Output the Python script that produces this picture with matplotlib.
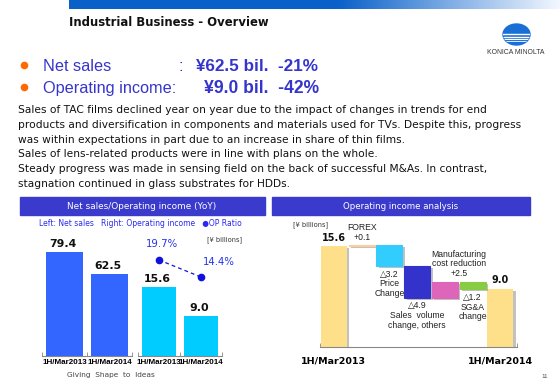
import matplotlib
matplotlib.use("Agg")
import matplotlib.pyplot as plt
import matplotlib.patheffects as pe
import numpy as np
from matplotlib.patches import Ellipse, Rectangle

# ── data ──
periods = ["1H/Mar2013", "1H/Mar2014"]
net_sales = [79.4, 62.5]
op_income = [15.6, 9.0]
op_ratio = [19.7, 14.4]

step_delta = [0.1, -3.2, -4.9, 2.5, -1.2]
step_labels = ["FOREX\n+0.1", "△3.2\nPrice\nChange", "△4.9\nSales  volume\nchange, others",
               "Manufacturing\ncost reduction\n+2.5", "△1.2\nSG&A\nchange"]
step_colors = ["#ffcc99", "#33ccff", "#3333cc", "#dd66bb", "#88cc44"]

paragraph = [
    "Sales of TAC films declined year on year due to the impact of changes in trends for end",
    "products and diversification in components and materials used for TVs. Despite this, progress",
    "was within expectations in part due to an increase in share of thin films.",
    "Sales of lens-related products were in line with plans on the whole.",
    "Steady progress was made in sensing field on the back of successful M&As. In contrast,",
    "stagnation continued in glass substrates for HDDs.",
]

W, H = 560, 388
fig = plt.figure(figsize=(W / 100, H / 100), dpi=100)
BLUE_TXT = "#3535cc"
SANS = ["Liberation Sans", "DejaVu Sans"]


def fx(x):
    return x / W


def fy(y):
    return 1 - y / H


def fit(t, width):
    r = fig.canvas.get_renderer()
    w = t.get_window_extent(r).width
    t.set_fontsize(t.get_fontsize() * width / w)
    return t


# page layer in pixel coordinates
page = fig.add_axes([0, 0, 1, 1])
page.set_axis_off()

# top gradient band
xs = np.linspace(0, 1, 400)
fade = np.clip((xs - 0.55) / 0.45, 0, 1)[None, :, None]
c0 = np.array([0.04, 0.38, 0.79])
band = c0 * (1 - fade) + np.array([0.95, 0.97, 1.0]) * fade
page.imshow(band, extent=(69, 560, 9, 0), aspect="auto")
page.set_xlim(0, W)
page.set_ylim(H, 0)

page.text(69, 25.5, "Industrial Business - Overview", fontsize=8, fontweight="bold",
          family="DejaVu Sans", va="baseline", color="#111111")
fit(page.texts[-1], 199)

# logo
globe = Ellipse((516.5, 34.5), 27, 21, color="#1a6fd6")
page.add_patch(globe)
for dy, lw in [(-1, 1.0), (2, 1.0), (4.5, 0.8), (6.8, 0.6)]:
    ln, = page.plot([500, 533], [34.5 + dy] * 2, color="white", lw=lw)
    ln.set_clip_path(globe)
t = page.text(516, 52.5, "KONICA MINOLTA", fontsize=4, family=SANS, ha="center", va="center",
              color="#333333")
fit(t, 57)

# bullets
for y in (71, 93):
    page.plot(24, y - 6, "o", ms=5.5, color="#ff6a00", mec="none")
page.text(43, 71, "Net sales", fontsize=11.7, family=SANS, color=BLUE_TXT, va="baseline")
page.text(178, 71, ":", fontsize=11.7, family=SANS, color=BLUE_TXT, va="baseline")
t = page.text(196, 71, "¥62.5 bil.  -21%", fontsize=11.7, family=SANS, fontweight="bold",
              color=BLUE_TXT, va="baseline")
fit(t, 122)
page.text(43, 93, "Operating income:", fontsize=11.7, family=SANS, color=BLUE_TXT, va="baseline")
t = page.text(204, 93, "¥9.0 bil.  -42%", fontsize=11.7, family=SANS, fontweight="bold",
              color=BLUE_TXT, va="baseline")
fit(t, 115)

# paragraph
lines = [page.text(18, 113 + i * 14.8, s, fontsize=8.5, family="DejaVu Sans", va="baseline",
                   color="#111111") for i, s in enumerate(paragraph)]
fit(lines[1], 501)
for t in lines:
    t.set_fontsize(lines[1].get_fontsize())

# section headers
HDR = "#3a3acc"
page.add_patch(Rectangle((20, 197), 245, 18, color=HDR))
page.add_patch(Rectangle((272, 197), 258, 18, color=HDR))
t = page.text(142, 206.5, "Net sales/Operating income (YoY)", fontsize=7.5, family="DejaVu Sans",
              color="white", ha="center", va="center")
fit(t, 149)
t = page.text(401, 206.5, "Operating income analysis", fontsize=7.5, family="DejaVu Sans",
              color="white", ha="center", va="center")
fit(t, 116)

t = page.text(39, 223, "Left: Net sales   Right: Operating income   ●OP Ratio", fontsize=6,
              family="DejaVu Sans", color="#2b2bee", va="center")
fit(t, 204)
page.text(225, 240, "[¥ billions]", fontsize=4.8, family="DejaVu Sans", color="#333333",
          ha="center", va="center")
page.text(293, 225, "[¥ billions]", fontsize=4.8, family="DejaVu Sans", color="#333333",
          va="center")
t = page.text(67, 375, "Giving  Shape  to  Ideas", fontsize=5, family="DejaVu Sans",
              color="#444444", va="center")
fit(t, 88)
page.text(541, 376, "11", fontsize=4.5, family=SANS, color="#555555", va="center")


def style_base(ax):
    for s in ("top", "right", "left"):
        ax.spines[s].set_visible(False)
    ax.spines["bottom"].set_color("#888888")
    ax.spines["bottom"].set_linewidth(0.8)
    ax.set_yticks([])
    ax.patch.set_alpha(0)


# ── left: net sales / operating income ──
ax_ns = fig.add_axes([fx(42), fy(356), (132 - 42) / W, (356 - 225) / H])
ax_op = fig.add_axes([fx(138), fy(356), (222 - 138) / W, (356 - 225) / H])
for ax, vals, col, lim, w in [(ax_ns, net_sales, "#3366ff", 100, 0.82),
                              (ax_op, op_income, "#00ccff", 29.6, 0.83)]:
    style_base(ax)
    x = np.arange(len(vals))
    ax.bar(x, vals, width=w, color=col)
    ax.set_xlim(-0.5, len(vals) - 0.5)
    ax.set_ylim(0, lim)
    ax.set_xticks(x, periods)
    ax.set_xticks([-0.5, 0.5, 1.5], minor=True)
    ax.tick_params(axis="x", which="major", length=0, pad=2)
    ax.tick_params(axis="x", which="minor", length=3, direction="in", color="#888888")
    for lab in ax.get_xticklabels():
        lab.set_fontsize(6)
        lab.set_fontweight("bold")
        lab.set_fontfamily("Liberation Sans")
        fit(lab, 45)
    for xi, v in zip(x, vals):
        ax.annotate(f"{v:.1f}", (xi, v), xytext=(-1, 2), textcoords="offset points",
                    ha="center", va="bottom", fontsize=7.9, fontweight="bold",
                    family="DejaVu Sans", color="#111111")

ax_r = ax_op.twinx()
ax_r.set_axis_off()
ax_r.set_ylim(-10.2, 30.6)
ax_r.plot(np.arange(2), op_ratio, "--", color="#1111dd", lw=0.9, dashes=(3, 2.5),
          marker="o", ms=4.5)
for xi, v, off in zip(np.arange(2), op_ratio, [(2, 11.5), (13, 11)]):
    ax_r.annotate(f"{v}%", (xi, v), xytext=off, textcoords="offset points", ha="center",
                  va="center", fontsize=7.3, family="DejaVu Sans", color="#2233ee")

# ── right: operating income waterfall ──
ax_w = fig.add_axes([fx(320), fy(347), (517 - 320) / W, (347 - 215) / H])
style_base(ax_w)
ax_w.set_xlim(-0.5, 6.6)
ax_w.set_ylim(0, 20.4)
shadow = [pe.SimplePatchShadow(offset=(1.8, -1.5), shadow_rgbFace="#999999", alpha=0.6),
          pe.Normal()]
n = len(step_delta)
ax_w.bar([0, n + 1], op_income, width=0.94, color="#ffe08a", path_effects=shadow)
level = op_income[0]
xoff = [0, 0, 0, 10, 0]
for i, (d, lab, col) in enumerate(zip(step_delta, step_labels, step_colors)):
    bottom = level if d > 0 else level + d
    ax_w.bar(i + 1, abs(d), bottom=bottom, width=0.94, color=col, edgecolor=col, lw=0.8,
             path_effects=shadow)
    if d > 0:
        ax_w.annotate(lab, (i + 1, bottom + abs(d)), xytext=(xoff[i], 2.5), textcoords="offset points",
                      ha="center", va="bottom", fontsize=6.2, family=SANS, color="#222222",
                      linespacing=1.1)
    else:
        ax_w.annotate(lab, (i + 1, bottom), xytext=(xoff[i], -2.5), textcoords="offset points",
                      ha="center", va="top", fontsize=6.2, family=SANS, color="#222222",
                      linespacing=1.1)
    level += d
for xi, v in zip([0, n + 1], op_income):
    ax_w.annotate(f"{v:.1f}", (xi, v), xytext=(0, 2.5), textcoords="offset points", ha="center",
                  va="bottom", fontsize=7, fontweight="bold", family="DejaVu Sans", color="#111111")
ax_w.set_xticks([0, n + 1], periods)
ax_w.set_xticks([-0.5, 6.6], minor=True)
ax_w.tick_params(axis="x", which="major", length=0, pad=6.5)
ax_w.tick_params(axis="x", which="minor", length=3, direction="in", color="#888888")
for lab in ax_w.get_xticklabels():
    lab.set_fontsize(6.8)
    lab.set_fontweight("bold")
    lab.set_fontfamily("DejaVu Sans")

fig.savefig("out.png", dpi=100)
